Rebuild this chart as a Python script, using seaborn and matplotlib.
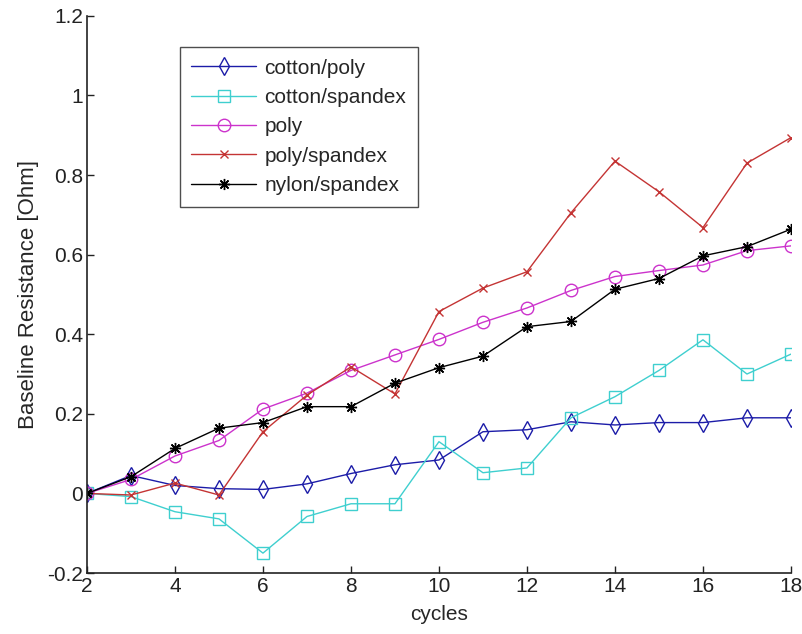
"""
Baseline resistance vs cycles for several fabric types.
"""
import pandas as pd
import numpy as np
import matplotlib
matplotlib.use('Agg')
import matplotlib.pyplot as plt
import seaborn as sns

cycles = list(range(2, 19))
series_names = ['cotton/poly', 'cotton/spandex', 'poly', 'poly/spandex', 'nylon/spandex']

cotton_poly = [0, 0.045, 0.02, 0.012, 0.01, 0.024, 0.05, 0.072, 0.084, 0.155,
               0.16, 0.18, 0.172, 0.178, 0.178, 0.19, 0.19]
cotton_spandex = [0, -0.008, -0.046, -0.064, -0.15, -0.058, -0.026, -0.026, 0.13, 0.052,
                  0.064, 0.19, 0.243, 0.309, 0.386, 0.30, 0.35]
poly = [0, 0.035, 0.094, 0.133, 0.212, 0.252, 0.309, 0.348, 0.387, 0.43,
        0.466, 0.51, 0.545, 0.56, 0.574, 0.61, 0.622]
poly_spandex = [0, -0.004, 0.026, -0.004, 0.155, 0.247, 0.318, 0.25, 0.457, 0.516,
                0.557, 0.705, 0.835, 0.758, 0.668, 0.83, 0.894]
nylon_spandex = [0, 0.042, 0.113, 0.164, 0.178, 0.218, 0.218, 0.277, 0.316, 0.345,
                 0.419, 0.432, 0.513, 0.54, 0.597, 0.62, 0.664]

values = [cotton_poly, cotton_spandex, poly, poly_spandex, nylon_spandex]
colors = ['#1c1ca8', '#3fcfcf', '#cc33cc', '#c43434', '#000000']
markers = ['d', 's', 'o', 'x', (8, 2, 0)]
msizes = [9, 9, 9, 6, 8]

df = pd.concat([pd.DataFrame({'cycles': cycles, 'value': v, 'fabric': n})
                for n, v in zip(series_names, values)], ignore_index=True)

sns.set_style('ticks')
plt.rcParams['font.family'] = ['Liberation Sans', 'DejaVu Sans']
plt.rcParams['xtick.direction'] = 'in'
plt.rcParams['ytick.direction'] = 'in'

fig = plt.figure(figsize=(8.03, 6.34), dpi=100)
ax = fig.add_axes([0.1083, 0.0962, 0.8767, 0.8788])

for name, color, mk, ms in zip(series_names, colors, markers, msizes):
    sub = df[df['fabric'] == name]
    sns.lineplot(data=sub, x='cycles', y='value', ax=ax, color=color, marker=mk,
                 markersize=ms, markerfacecolor='none', markeredgecolor=color,
                 markeredgewidth=1.0, linewidth=1.0, label=name)

ax.set_xlim(2, 18)
ax.set_ylim(-0.2, 1.2)
ax.set_xticks(range(2, 19, 2))
yt = np.round(np.arange(-0.2, 1.21, 0.2), 1)
ax.set_yticks(yt)
ax.set_yticklabels(['%g' % t for t in yt])
ax.tick_params(labelsize=15, length=5, width=1, colors='#222222', pad=3)
ax.set_xlabel('cycles', fontsize=15, labelpad=6)
ax.set_ylabel('Baseline Resistance [Ohm]', fontsize=16, labelpad=6)
sns.despine(ax=ax)
for s in ['left', 'bottom']:
    ax.spines[s].set_linewidth(1.2)
    ax.spines[s].set_color('#222222')

leg = ax.legend(loc='upper left', bbox_to_anchor=(0.132, 0.944), fontsize=15,
                frameon=True, fancybox=False, edgecolor='#222222',
                handlelength=3.1, borderpad=0.55, labelspacing=0.5,
                handletextpad=0.4, borderaxespad=0)
leg.get_frame().set_linewidth(1.0)

fig.savefig('out.png', dpi=100)
